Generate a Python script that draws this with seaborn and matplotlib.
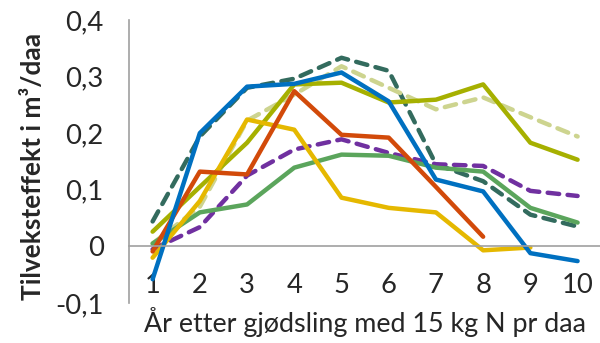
import numpy as np
import pandas as pd
import matplotlib
matplotlib.use("Agg")
import matplotlib.pyplot as plt
import seaborn as sns

years = list(range(1, 11))
tick_labels = [str(y) for y in years]
y_ticks = [-0.1, 0.0, 0.1, 0.2, 0.3, 0.4]
y_tick_labels = ["-0,1", "0", "0,1", "0,2", "0,3", "0,4"]

teal_dash = [0.044, 0.194, 0.280, 0.296, 0.333, 0.310, 0.145, 0.115, 0.056, 0.035]
olive_light_dash = [0.005, 0.070, 0.222, 0.268, 0.318, 0.280, 0.242, 0.263, 0.228, 0.194]
purple_dash = [-0.005, 0.034, 0.125, 0.171, 0.189, 0.165, 0.145, 0.142, 0.098, 0.089]
green = [0.005, 0.060, 0.074, 0.139, 0.162, 0.160, 0.139, 0.132, 0.068, 0.042]
olive = [0.026, 0.105, 0.183, 0.286, 0.289, 0.254, 0.259, 0.286, 0.183, 0.153]
yellow = [-0.020, 0.080, 0.224, 0.206, 0.086, 0.068, 0.060, -0.007, -0.002, np.nan]
red = [-0.009, 0.132, 0.127, 0.274, 0.197, 0.192, 0.105, 0.017, np.nan, np.nan]
blue = [-0.058, 0.200, 0.282, 0.287, 0.307, 0.256, 0.118, 0.097, -0.012, -0.026]

series = [
    ("teal", teal_dash, "#336B5E", True),
    ("olive_light", olive_light_dash, "#CDD48F", True),
    ("purple", purple_dash, "#7030A0", True),
    ("green", green, "#5BA55C", False),
    ("olive", olive, "#A6B000", False),
    ("yellow", yellow, "#E5B800", False),
    ("red", red, "#D24A0A", False),
    ("blue", blue, "#0070C0", False),
]

sns.set_style("white")
plt.rcParams["font.family"] = ["Lato", "DejaVu Sans"]

fig = plt.figure(figsize=(6.0, 3.43), dpi=100)
ax = fig.add_axes([0.215, 0.1166, 0.787, 0.8256])

for name, vals, col, dashed in series:
    df = pd.DataFrame({"year": years, "val": vals}).dropna()
    sns.lineplot(data=df, x="year", y="val", ax=ax, color=col, lw=3.2, legend=False)
    l = ax.lines[-1]
    l.set_solid_capstyle("round")
    l.set_solid_joinstyle("round")
    if dashed:
        l.set_dashes((2.6, 1.9))
        l.set_dash_capstyle("round")

ax.set_xlim(0.5, 10.5)
ax.set_ylim(-0.1, 0.4)

# fit font sizes to reference widths
renderer = fig.canvas.get_renderer()
def fit_size(txt, target_px, weight="normal"):
    t = fig.text(0, 0, txt, fontsize=10, fontweight=weight)
    w = t.get_window_extent(renderer).width
    t.remove()
    return 10 * target_px / w

tick_fs = fit_size("0,4", 38)
xl_fs = fit_size("År etter gjødsling med 15 kg N pr daa", 442)
yl_fs = fit_size("Tilveksteffekt i m³/daa", 268, "bold")

gray = "#A0A0A0"
for s in ["top", "right"]:
    ax.spines[s].set_visible(False)
ax.spines["left"].set_color(gray)
ax.spines["bottom"].set_color(gray)
ax.spines["left"].set_linewidth(1.2)
ax.spines["bottom"].set_linewidth(1.2)
ax.spines["bottom"].set_position(("data", 0))

ax.set_yticks(y_ticks)
ax.set_yticklabels(y_tick_labels, fontsize=tick_fs)
ax.tick_params(axis="y", direction="out", length=7.2, width=1.2, color=gray, pad=11)

ax.set_xticks(years)
ax.set_xticklabels(tick_labels, fontsize=tick_fs)
ax.set_xticks(np.arange(1.5, 10.6, 1.0), minor=True)
ax.tick_params(axis="x", which="major", length=0, pad=19)
ax.tick_params(axis="x", which="minor", direction="out", length=7, width=1.2, color=gray)

ax.set_xlabel("År etter gjødsling med 15 kg N pr daa", fontsize=xl_fs)
ax.set_ylabel("Tilveksteffekt i m³/daa", fontsize=yl_fs, fontweight="bold")
ax.xaxis.set_label_coords(0.5, -0.015)
ax.yaxis.set_label_coords(-0.178, 0.484)
ax.grid(False)

fig.savefig("out.png", dpi=100)
